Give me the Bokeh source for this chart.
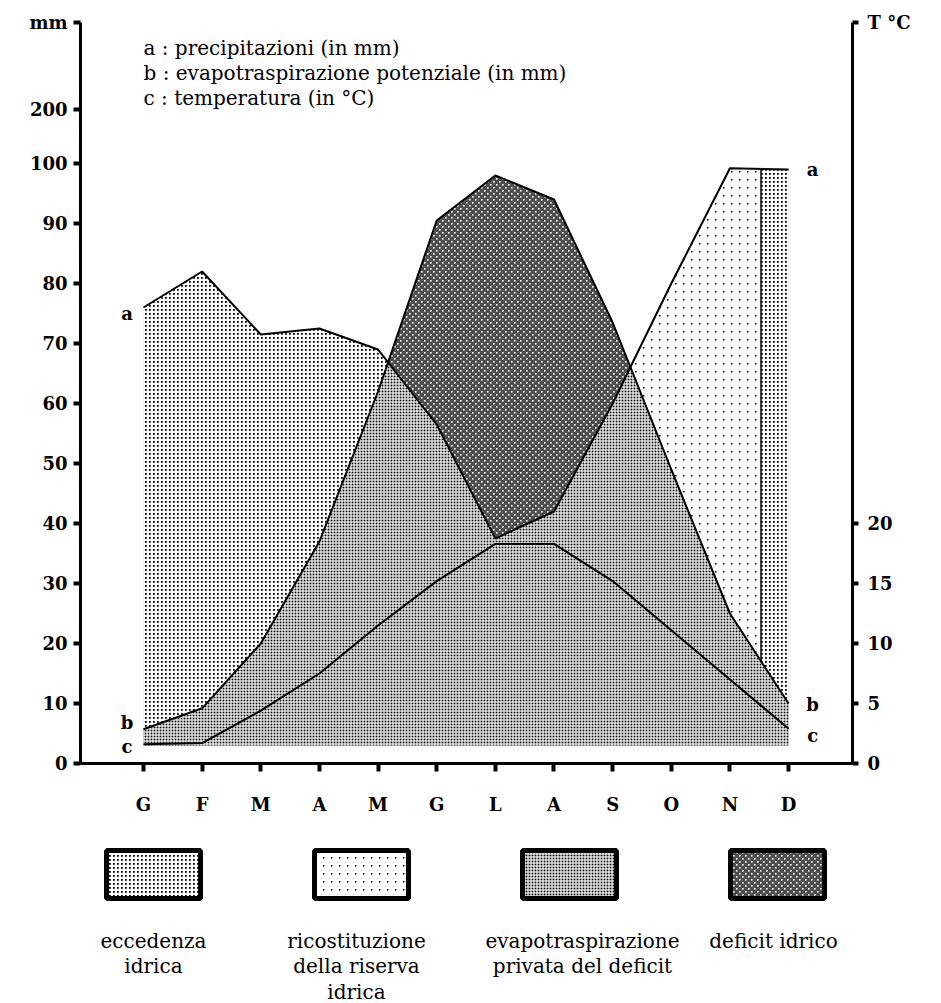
import base64
import numpy as np
from bokeh.plotting import figure
from bokeh.models import Range1d, LinearAxis, FixedTicker, ImageURLTexture
from bokeh.layouts import column
from bokeh.embed import file_html
from bokeh.resources import INLINE
from bokeh.core.properties import value

# ---------------- data ----------------
mesi = ["G", "F", "M", "A", "M", "G", "L", "A", "S", "O", "N", "D"]
precipitazioni = [76, 82, 71.5, 72.5, 69, 56.5, 37.5, 42, 60, 80, 99.2, 99]          # a (mm)
evapotraspirazione = [5.7, 9.2, 20, 37, 62, 90.5, 98, 94, 73.5, 49, 25, 10]          # b (mm)
temperatura = [1.6, 1.7, 4.4, 7.5, 11.5, 15.2, 18.3, 18.3, 15.2, 11.1, 7.0, 2.9]     # c (°C)
mm_ticks = [0, 10, 20, 30, 40, 50, 60, 70, 80, 90, 100, 109]
mm_tick_labels = ["0", "10", "20", "30", "40", "50", "60", "70", "80", "90", "100", "200"]
temp_ticks = [0, 5, 10, 15, 20]
unita_mm = "mm"
unita_temp = "T °C"
riserva_piena = 10.53      # month position where the soil reserve is refilled
base_mm = 3.0              # floor of the filled areas

legenda_top = ["a : precipitazioni (in mm)",
               "b : evapotraspirazione potenziale (in mm)",
               "c : temperatura (in °C)"]
legenda_box = [["eccedenza", "idrica"],
               ["ricostituzione", "della riserva", "idrica"],
               ["evapotraspirazione", "privata del deficit"],
               ["deficit idrico"]]

FONT = "DejaVu Serif"


# ---------------- fill textures ----------------
def tile(w, h, bg, dots, color):
    parts = [f'<rect width="{w}" height="{h}" fill="{bg}"/>']
    for dx, dy, s in dots:
        parts.append(f'<rect x="{dx}" y="{dy}" width="{s}" height="{s}" fill="{color}"/>')
    svg = (f'<svg xmlns="http://www.w3.org/2000/svg" width="{w}" height="{h}">'
           + "".join(parts) + "</svg>")
    return "data:image/svg+xml;base64," + base64.b64encode(svg.encode()).decode()


TEX = {
    "ecc": ImageURLTexture(url=tile(4, 4, "white", [(1, 1, 1.8)], "black")),
    "ric": ImageURLTexture(url=tile(8, 8, "white", [(3, 3, 1.5)], "black")),
    "eva": ImageURLTexture(url=tile(3, 3, "white", [(0.6, 0.6, 1.8)], "black")),
    "def": ImageURLTexture(url=tile(6, 6, "#4e4e4e", [(1, 1, 1.6), (4, 4, 1.6)], "white")),
}
FALLBACK = {"ecc": "#d4d4d4", "ric": "#f2f2f2", "eva": "#a8a8a8", "def": "#666666"}


def sty(key):
    return dict(fill_color=FALLBACK[key], hatch_pattern=value(key), hatch_extra=TEX)


# ---------------- geometry from data ----------------
x = np.arange(len(mesi), dtype=float)
a = np.array(precipitazioni, dtype=float)
b = np.array(evapotraspirazione, dtype=float)
c = np.array(temperatura, dtype=float)
d = a - b
cross = []
for i in range(len(x) - 1):
    if d[i] * d[i + 1] < 0:
        cross.append(x[i] + d[i] / (d[i] - d[i + 1]))
c1, c2 = cross[0], cross[1]
xs = np.unique(np.concatenate([x, cross, [riserva_piena]]))
A = np.interp(xs, x, a)
B = np.interp(xs, x, b)


def seg(lo, hi):
    m = (xs >= lo - 1e-9) & (xs <= hi + 1e-9)
    return xs[m], A[m], B[m]


y_top = 123.5
p = figure(width=941, height=830, x_range=Range1d(-1.074, 12.09), y_range=Range1d(0, y_top),
           toolbar_location=None, output_backend="svg",
           min_border_left=80, min_border_right=89, min_border_top=22, min_border_bottom=67)
p.extra_y_ranges = {"temp": Range1d(0, y_top / 2)}
p.grid.visible = False
p.outline_line_color = None
p.background_fill_color = "white"

# filled areas
p.varea(x=xs, y1=base_mm, y2=np.minimum(A, B), **sty("eva"))
xx, aa, bb = seg(0, c1)
p.varea(x=xx, y1=bb, y2=aa, **sty("ecc"))
xx, aa, bb = seg(c1, c2)
p.varea(x=xx, y1=aa, y2=bb, **sty("def"))
xx, aa, bb = seg(c2, riserva_piena)
p.varea(x=xx, y1=bb, y2=aa, **sty("ric"))
xx, aa, bb = seg(riserva_piena, x[-1])
p.varea(x=xx, y1=bb, y2=aa, **sty("ecc"))

# curves
p.line(x, a, line_color="black", line_width=2)
p.line(x, b, line_color="black", line_width=2)
p.line(x, c, line_color="black", line_width=2, y_range_name="temp")
p.segment(x0=[riserva_piena], y0=[np.interp(riserva_piena, x, b)],
          x1=[riserva_piena], y1=[np.interp(riserva_piena, x, a)], line_color="black", line_width=1.5)

# curve letters
lab_kw = dict(text_font=value(FONT), text_font_style="bold", text_font_size="18px",
              text_align="center", text_baseline="middle", text_color="black")
p.text(x=[x[0] - 0.28] * 3, y=[a[0] - 1.0, b[0] + 1.2, 2 * c[0] - 0.3], text=["a", "b", "c"], **lab_kw)
p.text(x=[x[-1] + 0.41] * 3, y=[a[-1], b[-1] - 0.2, 2 * c[-1] - 1.2], text=["a", "b", "c"], **lab_kw)

# top legend text
p.text(x=[x[0]] * 3, y=[119.3 - 4.2 * i for i in range(3)], text=legenda_top,
       text_font=value(FONT), text_font_size="20px", text_align="left", text_baseline="middle",
       text_color="black")


# axes
def style_axis(ax, out=7):
    ax.axis_line_width = 3
    ax.axis_line_color = "black"
    ax.major_tick_line_width = 4
    ax.major_tick_line_color = "black"
    ax.major_tick_out = out
    ax.major_tick_in = 0
    ax.minor_tick_line_color = None
    ax.major_label_text_font = FONT
    ax.major_label_text_font_style = "bold"
    ax.major_label_text_font_size = "18px"
    ax.major_label_text_color = "black"


p.xaxis.ticker = FixedTicker(ticks=list(range(len(mesi))))
p.xaxis.major_label_overrides = {i: m for i, m in enumerate(mesi)}
style_axis(p.xaxis[0], out=8)
p.xaxis.major_label_standoff = 22

top_mm = y_top - 0.01
p.yaxis.ticker = FixedTicker(ticks=mm_ticks + [top_mm])
ov = {t: l for t, l in zip(mm_ticks, mm_tick_labels)}
ov[top_mm] = unita_mm
p.yaxis.major_label_overrides = ov
style_axis(p.yaxis[0])
p.yaxis.major_label_standoff = 6

top_t = y_top / 2 - 0.005
ax_r = LinearAxis(y_range_name="temp", ticker=FixedTicker(ticks=temp_ticks + [top_t]))
ax_r.major_label_overrides = {top_t: unita_temp}
style_axis(ax_r, out=6)
ax_r.major_label_standoff = 9
p.add_layout(ax_r, "right")

# ---------------- bottom legend (frame aligned with the chart: page x 80..852) ----------------
q = figure(width=941, height=173, x_range=Range1d(80, 852), y_range=Range1d(173, 0),
           toolbar_location=None, output_backend="svg", min_border=0)
q.axis.visible = False
q.grid.visible = False
q.outline_line_color = None

box_cx = [153 + 208 * i for i in range(4)]
txt_cx = [153, 356, 582, 773]
for i, key in enumerate(["ecc", "ric", "eva", "def"]):
    q.rect(x=[box_cx[i]], y=[44], width=94, height=48, line_color="black", line_width=5, **sty(key))
    lines = legenda_box[i]
    q.text(x=[txt_cx[i]] * len(lines), y=[110 + 25.5 * k for k in range(len(lines))], text=lines,
           text_font=value(FONT), text_font_size="20px", text_align="center", text_baseline="middle",
           text_color="black")

open("out.html", "w").write(file_html(column(p, q), INLINE))
